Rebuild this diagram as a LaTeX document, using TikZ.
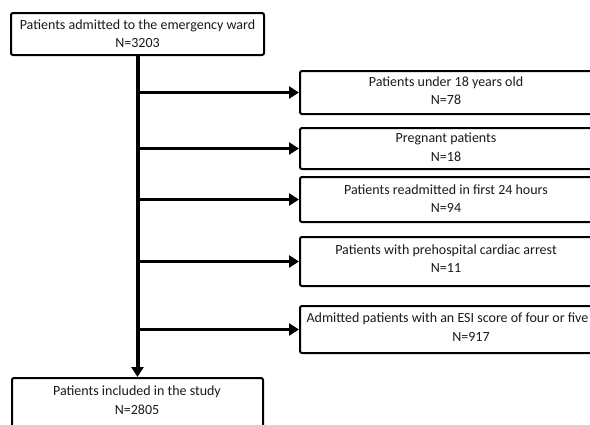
\documentclass[tikz,border=0pt]{standalone}
\usepackage{fontspec}
\setmainfont{Carlito}
\usetikzlibrary{arrows.meta}
\begin{document}
\begin{tikzpicture}[x=1pt,y=-1pt,
  box/.style={draw=black, line width=2pt, rounded corners=2pt, minimum width=#1, inner sep=0pt},
  txt/.style={align=center, font=\fontsize{14}{18.5}\selectfont, text=black!90, inner sep=0pt, anchor=north},
  trunk/.style={line width=4pt},
  arr/.style={line width=3.5pt, -{Triangle[length=10pt,width=12pt]}}]
\useasboundingbox (0,0) rectangle (590,424);
\clip (0,0) rectangle (590,424);
% boxes
\node[box=253pt, minimum height=42pt] (top) at (137.5,34) {};
\node[box=300pt, minimum height=43pt] (b1) at (450,92.5) {};
\node[box=300pt, minimum height=41pt] (b2) at (450,148.5) {};
\node[box=300pt, minimum height=45pt] (b3) at (450,199.5) {};
\node[box=300pt, minimum height=49pt] (b4) at (450,261.5) {};
\node[box=300pt, minimum height=47pt] (b5) at (450,329.5) {};
\node[box=251pt, minimum height=70pt] (bot) at (137.5,413) {};
% texts
\node[txt] (t0) at (137.5,19.5) {Patients admitted to the emergency ward\\N=3203};
\node[txt] (t1) at (446,76.5) {Patients under 18 years old\\N=78};
\node[txt] (t2) at (446,133) {Pregnant patients\\N=18};
\node[txt] (t3) at (446,184.5) {Patients readmitted in first 24 hours\\N=94};
\node[txt] (t4) at (446,244.5) {Patients with prehospital cardiac arrest\\N=11};
\node[txt] (t5) at (447.5,313) {Admitted patients with an ESI score of four or five\\\hspace*{47pt}N=917};
\node[txt] (t6) at (137,386) {Patients included in the study\\N=2805};
% connectors
\draw[trunk, -{Triangle[length=10pt,width=12pt]}] (top.south -| 137.5,0) -- (bot.north);
\foreach \b in {b1,b2,b3,b4,b5}{
  \draw[arr] (top.south |- \b.west) -- (\b.west);
}
\end{tikzpicture}
\end{document}
